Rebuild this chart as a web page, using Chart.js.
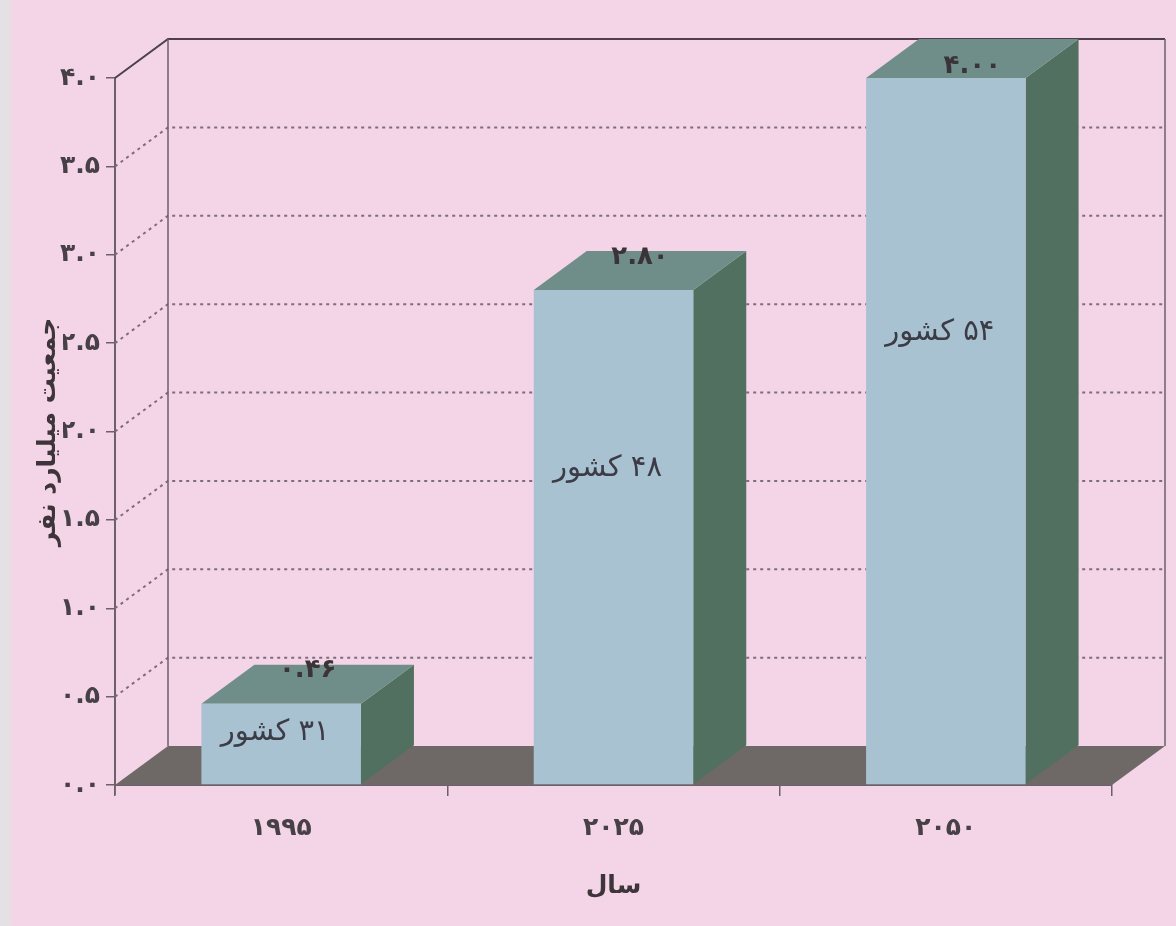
<!DOCTYPE html>
<html lang="fa">
<head>
<meta charset="utf-8">
<title>جمعیت میلیارد نفر</title>
<script src="https://cdn.jsdelivr.net/npm/chart.js@4/dist/chart.umd.min.js"></script>
<style>
    html, body { margin: 0; padding: 0; }
    body {
        width: 1176px; height: 926px; overflow: hidden;
        background: linear-gradient(to right, #e4e0e3 0, #e4e0e3 9px, #f4d5e7 13px);
    }
    canvas { display: block; }
</style>
</head>
<body>
<canvas id="chart" width="1176" height="926"></canvas>
<script>
// داده‌ها
const years = ['۱۹۹۵', '۲۰۲۵', '۲۰۵۰'];
const population = [0.46, 2.80, 4.00];
const valueLabels = ['۰.۴۶', '۲.۸۰', '۴.۰۰'];
const countryLabels = ['۳۱ کشور', '۴۸ کشور', '۵۴ کشور'];
const yTickLabels = ['۰.۰', '۰.۵', '۱.۰', '۱.۵', '۲.۰', '۲.۵', '۳.۰', '۳.۵', '۴.۰'];
const xTitle = 'سال';
const yTitle = 'جمعیت میلیارد نفر';

// رنگ‌ها و عمق سه‌بعدی
const DX = 53, DY = -39;
const PINK = '#f4d5e7';
const AXIS = '#6e5f6d';
const GRID = '#7d6d7c';
const FRONT = '#a9c2d1';
const TOP = '#6f8e89';
const SIDE = '#52705f';
const FLOOR = '#6e6967';
const FONT = '"DejaVu Sans", sans-serif';

const box3d = {
    id: 'box3d',
    beforeDatasetsDraw(chart) {
        const { ctx, chartArea: a, scales: { y } } = chart;
        ctx.save();

        // دیوار پشتی و خطوط شبکه
        ctx.lineWidth = 2;
        y.ticks.forEach(t => {
            if (t.value === 0) return;
            const py = y.getPixelForValue(t.value);
            const isTop = t.value === y.max;
            ctx.setLineDash(isTop ? [] : [3, 4]);
            ctx.strokeStyle = isTop ? '#4d404c' : GRID;
            ctx.beginPath();
            ctx.moveTo(a.left, py);
            ctx.lineTo(a.left + DX, py + DY);
            ctx.lineTo(a.right + DX, py + DY);
            ctx.stroke();
        });
        ctx.setLineDash([]);
        ctx.lineWidth = 1.5;
        ctx.strokeStyle = AXIS;
        const y0 = y.getPixelForValue(0), yMax = y.getPixelForValue(y.max);
        ctx.beginPath();
        ctx.moveTo(a.left + DX, y0 + DY);
        ctx.lineTo(a.left + DX, yMax + DY);
        ctx.moveTo(a.right + DX, y0 + DY);
        ctx.lineTo(a.right + DX, yMax + DY);
        ctx.moveTo(a.left, y0);
        ctx.lineTo(a.left, y0 + 10);
        ctx.stroke();

        // کف
        ctx.fillStyle = FLOOR;
        ctx.beginPath();
        ctx.moveTo(a.left, y0);
        ctx.lineTo(a.right, y0);
        ctx.lineTo(a.right + DX, y0 + DY);
        ctx.lineTo(a.left + DX, y0 + DY);
        ctx.closePath();
        ctx.fill();

        // وجه بالا و کنار ستون‌ها
        chart.getDatasetMeta(0).data.forEach(bar => {
            const { x, y: top, base, width } = bar.getProps(['x', 'y', 'base', 'width'], true);
            const l = x - width / 2, r = x + width / 2;
            ctx.fillStyle = SIDE;
            ctx.beginPath();
            ctx.moveTo(r, top);
            ctx.lineTo(r + DX, top + DY);
            ctx.lineTo(r + DX, base + DY);
            ctx.lineTo(r, base);
            ctx.closePath();
            ctx.fill();
            ctx.fillStyle = TOP;
            ctx.beginPath();
            ctx.moveTo(l, top);
            ctx.lineTo(r, top);
            ctx.lineTo(r + DX, top + DY);
            ctx.lineTo(l + DX, top + DY);
            ctx.closePath();
            ctx.fill();
        });
        ctx.restore();
    },
    afterDatasetsDraw(chart) {
        const { ctx, chartArea: a } = chart;
        ctx.save();
        ctx.textAlign = 'center';
        ctx.textBaseline = 'middle';
        chart.getDatasetMeta(0).data.forEach((bar, i) => {
            const { x, y: top, base } = bar.getProps(['x', 'y', 'base'], true);
            // مقدار روی ستون
            ctx.fillStyle = '#3a3438';
            ctx.font = 'bold 26px ' + FONT;
            const vy = Math.max(top + DY * 0.85, a.top - 12);
            ctx.fillText(valueLabels[i], x + DX * 0.5, vy);
            // تعداد کشورها
            ctx.fillStyle = '#3c3c46';
            ctx.font = '29px ' + FONT;
            ctx.direction = 'rtl';
            ctx.fillText(countryLabels[i], x - 6, base - (base - top) * 0.64);
            ctx.direction = 'ltr';
        });
        ctx.restore();
    },
    afterDraw(chart) {
        const { ctx, chartArea: a } = chart;
        ctx.save();
        ctx.fillStyle = '#3d3539';
        ctx.font = 'bold 25px ' + FONT;
        ctx.textAlign = 'center';
        ctx.textBaseline = 'middle';
        ctx.direction = 'rtl';
        ctx.fillText(xTitle, (a.left + a.right) / 2, 886);

        ctx.translate(48, 432);
        ctx.rotate(-Math.PI / 2);
        const w = ctx.measureText(yTitle).width;
        ctx.fillStyle = PINK;
        ctx.fillRect(-w / 2 - 4, -15, w + 8, 30);
        ctx.fillStyle = '#3d3539';
        ctx.fillText(yTitle, 0, 0);
        ctx.restore();
    }
};

new Chart(document.getElementById('chart'), {
    type: 'bar',
    data: {
        labels: years,
        datasets: [{
            data: population,
            backgroundColor: FRONT,
            borderWidth: 0,
            barPercentage: 0.48,
            categoryPercentage: 1
        }]
    },
    options: {
        responsive: false,
        animation: false,
        layout: { padding: { left: 0, top: 78, right: 64, bottom: 0 } },
        plugins: { legend: { display: false }, tooltip: { enabled: false } },
        scales: {
            x: {
                afterFit(scale) { scale.height = 141; },
                grid: { drawOnChartArea: false, drawTicks: true, tickLength: 11, color: AXIS, lineWidth: 1.5 },
                border: { color: AXIS, width: 2 },
                ticks: { color: '#474047', font: { family: FONT, size: 25, weight: 'bold' }, padding: 17 }
            },
            y: {
                min: 0, max: 4,
                afterFit(scale) { scale.width = 115; },
                grid: { drawOnChartArea: false, drawTicks: true, tickLength: 9, color: AXIS, lineWidth: 1.5 },
                border: { color: AXIS, width: 2 },
                ticks: {
                    stepSize: 0.5,
                    color: '#474047',
                    font: { family: FONT, size: 25, weight: 'bold' },
                    padding: 6,
                    callback: (v, i) => yTickLabels[i]
                }
            }
        }
    },
    plugins: [box3d]
});
</script>
</body>
</html>
